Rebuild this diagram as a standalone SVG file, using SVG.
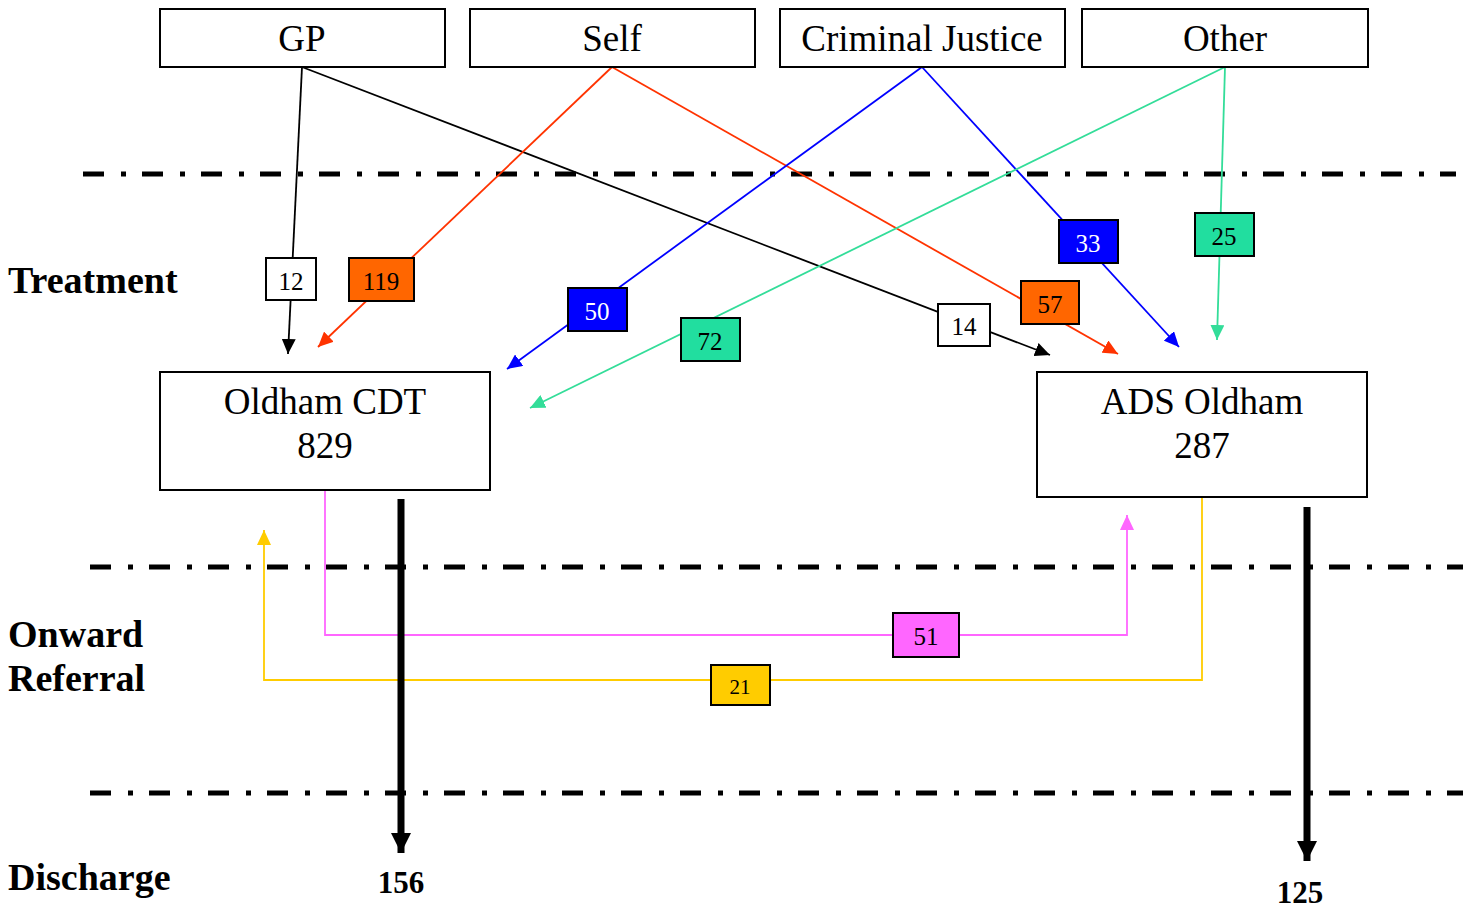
<svg xmlns="http://www.w3.org/2000/svg" width="1471" height="911" viewBox="0 0 1471 911">
<style>
.box{fill:#fff;stroke:#000;stroke-width:2}
.t{font-family:"Liberation Serif","Times New Roman",serif;font-size:37px;text-anchor:middle;fill:#000}
.side{font-family:"Liberation Serif","Times New Roman",serif;font-size:38px;font-weight:bold;fill:#000}
.lbl{stroke:#000;stroke-width:2}
.lt{font-family:"Liberation Serif","Times New Roman",serif;font-size:25px;text-anchor:middle}
.sep{stroke:#000;stroke-width:5;stroke-dasharray:21 17 5 16;fill:none}
.c{fill:none;stroke-width:1.8}
.dis{font-family:"Liberation Serif","Times New Roman",serif;font-size:31px;font-weight:bold;text-anchor:middle}
</style>
<defs>
<marker id="ak" markerUnits="userSpaceOnUse" markerWidth="16" markerHeight="14" refX="15" refY="7" orient="auto"><path d="M0,0 L15,7 L0,14 z" fill="#000"/></marker>
<marker id="ar" markerUnits="userSpaceOnUse" markerWidth="16" markerHeight="14" refX="15" refY="7" orient="auto"><path d="M0,0 L15,7 L0,14 z" fill="#FF3300"/></marker>
<marker id="ab" markerUnits="userSpaceOnUse" markerWidth="16" markerHeight="14" refX="15" refY="7" orient="auto"><path d="M0,0 L15,7 L0,14 z" fill="#0000FF"/></marker>
<marker id="ag" markerUnits="userSpaceOnUse" markerWidth="16" markerHeight="14" refX="15" refY="7" orient="auto"><path d="M0,0 L15,7 L0,14 z" fill="#33DD99"/></marker>
<marker id="ap" markerUnits="userSpaceOnUse" markerWidth="16" markerHeight="14" refX="15" refY="7" orient="auto"><path d="M0,0 L15,7 L0,14 z" fill="#FF66FF"/></marker>
<marker id="ay" markerUnits="userSpaceOnUse" markerWidth="16" markerHeight="14" refX="15" refY="7" orient="auto"><path d="M0,0 L15,7 L0,14 z" fill="#FFCC00"/></marker>
<marker id="abig" markerUnits="userSpaceOnUse" markerWidth="20" markerHeight="20" refX="20" refY="10" orient="auto"><path d="M0,0 L20,10 L0,20 z" fill="#000"/></marker>
</defs>

<g id="separators">
<line class="sep" x1="83" y1="174" x2="1456" y2="174"/>
<line class="sep" x1="90" y1="567" x2="1463" y2="567"/>
<line class="sep" x1="90" y1="793" x2="1463" y2="793"/>
</g>

<g id="stage-labels">
<text class="side" x="8" y="293">Treatment</text>
<text class="side" x="8" y="647">Onward</text>
<text class="side" x="8" y="691">Referral</text>
<text class="side" x="8" y="890">Discharge</text>
</g>

<g id="connectors">
<line class="c" stroke="#000" x1="302" y1="67" x2="288" y2="354" marker-end="url(#ak)"/>
<line class="c" stroke="#000" x1="302" y1="67" x2="1050" y2="355" marker-end="url(#ak)"/>
<line class="c" stroke="#FF3300" x1="612" y1="67" x2="318" y2="347" marker-end="url(#ar)"/>
<line class="c" stroke="#FF3300" x1="612" y1="67" x2="1118" y2="354" marker-end="url(#ar)"/>
<line class="c" stroke="#0000FF" x1="922" y1="67" x2="507" y2="369" marker-end="url(#ab)"/>
<line class="c" stroke="#0000FF" x1="922" y1="67" x2="1179" y2="347" marker-end="url(#ab)"/>
<line class="c" stroke="#33DD99" x1="1225" y1="67" x2="530" y2="408" marker-end="url(#ag)"/>
<line class="c" stroke="#33DD99" x1="1225" y1="67" x2="1217" y2="340" marker-end="url(#ag)"/>
<polyline class="c" stroke="#FF66FF" points="325,490 325,635 1127,635 1127,515" marker-end="url(#ap)"/>
<polyline class="c" stroke="#FFCC00" points="1202,497 1202,680 264,680 264,530" marker-end="url(#ay)"/>
<line stroke="#000" stroke-width="7" x1="401" y1="499" x2="401" y2="853" marker-end="url(#abig)"/>
<line stroke="#000" stroke-width="7" x1="1307" y1="507" x2="1307" y2="861" marker-end="url(#abig)"/>
</g>

<g id="gp"><rect class="box" x="160" y="9" width="285" height="58"/><text class="t" x="302" y="51">GP</text></g>
<g id="self"><rect class="box" x="470" y="9" width="285" height="58"/><text class="t" x="612" y="51">Self</text></g>
<g id="criminal-justice"><rect class="box" x="780" y="9" width="285" height="58"/><text class="t" x="922" y="51">Criminal Justice</text></g>
<g id="other"><rect class="box" x="1082" y="9" width="286" height="58"/><text class="t" x="1225" y="51">Other</text></g>

<g id="oldham-cdt"><rect class="box" x="160" y="372" width="330" height="118"/><text class="t" x="325" y="414">Oldham CDT</text><text class="t" x="325" y="458">829</text></g>
<g id="ads-oldham"><rect class="box" x="1037" y="372" width="330" height="125"/><text class="t" x="1202" y="414">ADS Oldham</text><text class="t" x="1202" y="458">287</text></g>

<g id="label-12"><rect class="lbl" fill="#fff" stroke="#444" x="266" y="258" width="50" height="42"/><text class="lt" x="291" y="290">12</text></g>
<g id="label-119"><rect class="lbl" fill="#FF6600" x="349" y="258" width="65" height="43"/><text class="lt" x="381" y="290">119</text></g>
<g id="label-50"><rect class="lbl" fill="#0000FF" x="568" y="288" width="59" height="43"/><text class="lt" x="597" y="320" fill="#fff">50</text></g>
<g id="label-72"><rect class="lbl" fill="#21DE9F" x="681" y="318" width="59" height="43"/><text class="lt" x="710" y="350">72</text></g>
<g id="label-14"><rect class="lbl" fill="#fff" stroke="#444" x="938" y="304" width="52" height="42"/><text class="lt" x="964" y="335">14</text></g>
<g id="label-57"><rect class="lbl" fill="#FF6600" x="1021" y="281" width="58" height="43"/><text class="lt" x="1050" y="313">57</text></g>
<g id="label-33"><rect class="lbl" fill="#0000FF" x="1059" y="220" width="59" height="43"/><text class="lt" x="1088" y="252" fill="#fff">33</text></g>
<g id="label-25"><rect class="lbl" fill="#21DE9F" x="1195" y="213" width="59" height="43"/><text class="lt" x="1224" y="245">25</text></g>
<g id="label-51"><rect class="lbl" fill="#FF66FF" x="893" y="613" width="66" height="44"/><text class="lt" x="926" y="645">51</text></g>
<g id="label-21"><rect class="lbl" fill="#FFCC00" x="711" y="665" width="59" height="40"/><text class="lt" x="740" y="694" style="font-size:21px">21</text></g>

<g id="discharge-counts">
<text class="dis" x="401" y="893">156</text>
<text class="dis" x="1300" y="903">125</text>
</g>
</svg>
